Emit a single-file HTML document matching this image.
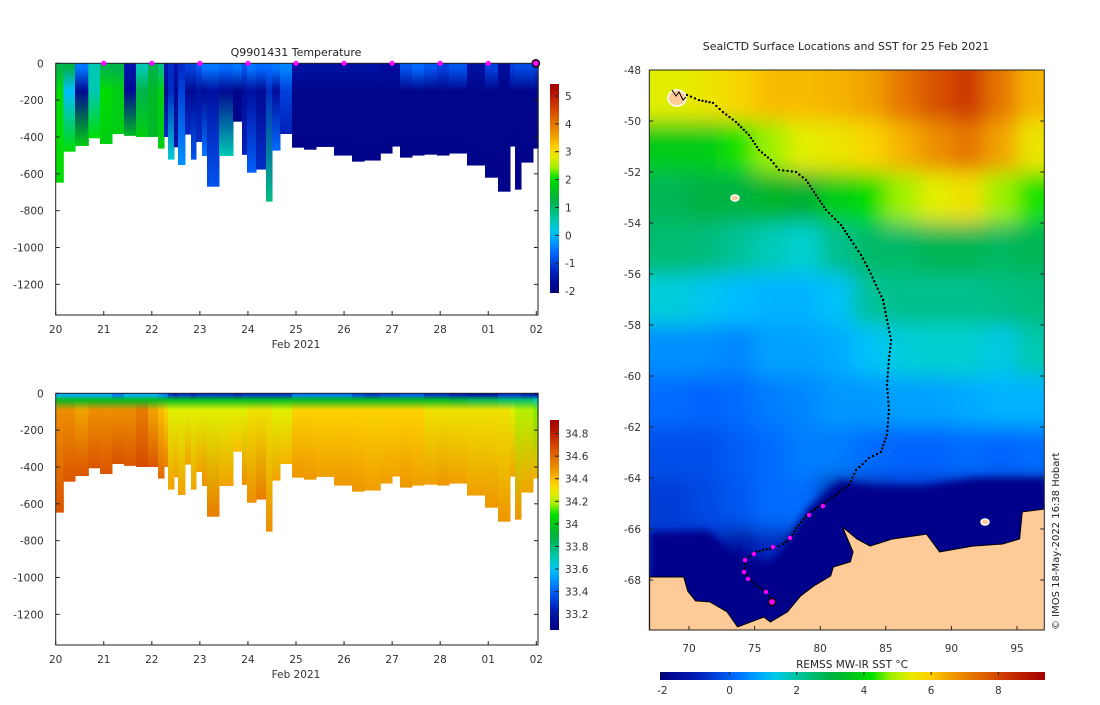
<!DOCTYPE html>
<html><head><meta charset="utf-8"><style>
html,body{margin:0;padding:0;background:#fff;}
svg text{font-family:"DejaVu Sans","Liberation Sans",sans-serif;}
</style></head><body>
<svg id="root" width="1100" height="700" viewBox="0 0 1100 700" xmlns="http://www.w3.org/2000/svg">
<defs id="defs"></defs>
<g id="g-temp"></g>
<g id="g-sal"></g>
<g id="g-map"></g>
</svg>
<script>
// ---------- data ----------
const profileStart=[0,0.159,0.402,0.679,0.922,1.171,1.421,1.671,1.920,2.129,2.254,2.337,2.461,2.545,2.690,2.815,2.919,3.044,3.148,3.398,3.689,3.876,3.980,4.168,4.376,4.501,4.667,4.917,5.166,5.416,5.791,6.165,6.415,6.754,6.998,7.164,7.414,7.663,7.934,8.183,8.558,8.933,9.203,9.453,9.557,9.682,9.931];
const profileEnd=10.04;
const profileDepth=[648,480,449,407,438,384,394,400,400,463,400,523,456,552,387,523,427,503,670,503,317,497,594,577,751,474,384,458,469,454,501,534,528,490,452,512,501,496,501,490,555,621,697,452,686,539,463];
const tempSurf=[1.2,1.2,-0.5,0.5,1.2,1.2,-1.5,0.5,1.2,0.8,-1.5,-1.2,-1.5,-1.2,-1.0,-1.0,-0.8,-0.5,-0.5,-0.6,-0.5,-0.8,-0.5,-0.6,-0.6,-0.5,-0.4,-1.6,-1.6,-1.6,-1.6,-1.6,-1.6,-1.7,-1.7,-0.8,-0.6,-0.8,-1.0,-0.8,-1.6,-1.0,-1.7,-1.0,-0.9,-0.9,-1.0];
const tempMid=[2,0,-1.8,0.5,2,1.8,-1.8,1.2,1.5,1.8,-1.8,-1.2,-1.8,-1.0,-1.8,-1.8,-1.6,-1.8,-1.6,-1.8,-1.9,-1.7,-1.6,-1.8,-1.2,-1.7,-1.0,-1.9,-1.9,-1.9,-1.9,-1.9,-1.9,-1.9,-1.9,-1.9,-1.9,-1.9,-1.9,-1.9,-1.9,-1.9,-1.9,-1.9,-1.9,-1.9,-1.9];
const tempDeep=[2,2,1.8,2,1.8,1.8,1.5,1.8,1.5,1.8,-1.2,0.3,-1.5,-0.3,-1.2,-0.8,-1.2,-0.5,-0.8,0.5,-1.9,-1.3,-0.7,-1.2,0.8,-0.6,-1.3,-1.95,-1.95,-1.95,-1.95,-1.95,-1.95,-1.95,-1.95,-1.95,-1.95,-1.95,-1.95,-1.95,-1.95,-1.95,-1.95,-1.95,-1.95,-1.95,-1.95];
const salSurf=[33.55,33.55,33.55,33.55,33.55,33.45,33.55,33.55,33.55,33.5,33.45,33.3,33.25,33.3,33.3,33.25,33.3,33.3,33.3,33.3,33.25,33.3,33.3,33.3,33.3,33.3,33.3,33.45,33.45,33.45,33.45,33.35,33.3,33.35,33.35,33.4,33.4,33.3,33.3,33.25,33.2,33.2,33.3,33.3,33.3,33.25,33.2];
const salTrans=[33.95,33.95,33.95,33.95,33.95,33.95,33.95,33.95,33.95,33.95,33.95,33.95,33.95,33.95,33.95,33.95,33.95,33.95,33.95,33.95,33.95,33.95,33.95,33.95,33.95,33.95,33.95,33.95,33.95,33.95,33.95,33.95,33.95,33.95,33.95,33.95,33.95,33.95,33.95,33.9,33.85,33.85,33.8,33.8,33.8,33.8,33.7];
const salMid=[34.5,34.5,34.45,34.5,34.5,34.5,34.5,34.55,34.45,34.4,34.35,34.25,34.25,34.25,34.25,34.25,34.25,34.25,34.25,34.25,34.25,34.25,34.3,34.3,34.3,34.25,34.25,34.35,34.35,34.35,34.35,34.35,34.35,34.35,34.35,34.35,34.35,34.3,34.3,34.3,34.3,34.3,34.3,34.25,34.2,34.2,34.15];
const salDeep=[34.65,34.65,34.65,34.65,34.65,34.66,34.65,34.68,34.65,34.6,34.55,34.45,34.45,34.45,34.45,34.45,34.45,34.5,34.55,34.45,34.4,34.5,34.5,34.55,34.5,34.45,34.42,34.48,34.48,34.46,34.48,34.48,34.46,34.46,34.45,34.48,34.46,34.46,34.48,34.46,34.46,34.48,34.48,34.45,34.48,34.45,34.42];
const dayLabels=['20','21','22','23','24','25','26','27','28','01','02'];
const depthTicks=[0,200,400,600,800,1000,1200];
const surfaceMarkerDays=[1,2,3,4,5,6,7,8,9];
const lastMarkerDay=10.0;
const tempTicks=[-2,-1,0,1,2,3,4,5];
const salTicks=[33.2,33.4,33.6,33.8,34,34.2,34.4,34.6,34.8];
// map data
const latTicks=[-48,-50,-52,-54,-56,-58,-60,-62,-64,-66,-68];
const lonTicks=[70,75,80,85,90,95];
const sstTicks=[-2,0,2,4,6,8];
const sstLonEdges=[67.5,70,72.5,75,77.5,80,82.5,85,87.5,90,92.5,95,97.5];
const sstLatEdges=[-48,-50,-52,-54,-56,-58,-60,-62,-64,-66,-68,-70];
const sstGrid=[
[5.3,5.5,5.8,6.2,6.2,6.3,6.5,7.2,7.8,8.2,7.2,6.3],
[3.8,3.8,4.3,4.8,5.3,5.5,5.8,6.3,6.8,7.2,6.5,5.5],
[2.8,3,3,3.3,3.2,3.8,4.2,4.8,5.3,5.6,4.8,4.3],
[2.5,2.4,2.1,1.8,1.6,2.2,2.6,2.6,2.8,2.8,2.7,2.8],
[1.5,1.3,1.1,1,1,1.2,2.1,2.2,2.2,2.2,2.3,2.4],
[0.6,0.6,0.5,0.8,0.8,0.9,1.2,1.5,1.6,1.6,1.4,1.9],
[0.2,0.1,0.2,0.4,0.5,0.7,0.7,0.8,0.8,0.9,1,1],
[-0.2,-0.2,0,0.2,0.4,0.4,0.2,0.1,0.1,0.2,0.1,0.2],
[-0.5,-0.3,-0.1,0.2,0.2,-1.5,-1.2,-0.7,-0.8,-1,-1.3,-1.6],
[-0.6,-0.7,-1.5,-0.8,-1.7,-1.9,-1.9,-1.9,-1.9,-1.9,-1.9,-1.9],
[-1.9,-1.9,-1.9,-1.9,-1.9,-1.9,-1.9,-1.9,-1.9,-1.9,-1.9,-1.9]];
const trackLon=[69.85,70.76,71.83,72.59,73.58,74.57,75.34,76.25,76.86,78.16,78.92,79.68,80.44,81.59,82.35,83.11,83.72,84.25,84.79,85.09,85.40,85.24,85.09,85.24,85.09,84.63,83.72,82.73,82.20,81.20,80.06,79.15,78.54,78.16,77.77,77.16,76.48,75.64,74.87,74.34,74.19,74.57,75.18,75.95,76.25];
const trackLat=[-48.98,-49.18,-49.29,-49.65,-50.04,-50.55,-51.14,-51.53,-51.92,-52.0,-52.31,-52.90,-53.49,-54.08,-54.67,-55.25,-55.84,-56.43,-57.02,-57.80,-58.59,-59.37,-60.35,-61.33,-62.31,-62.98,-63.22,-63.69,-64.27,-64.67,-65.06,-65.37,-65.73,-65.96,-66.35,-66.59,-66.75,-66.82,-66.94,-67.22,-67.69,-67.92,-68.24,-68.47,-68.82];
const pinkLon=[80.21,79.15,77.70,76.40,74.95,74.27,74.19,74.50,75.87];
const pinkLat=[-65.10,-65.45,-66.35,-66.71,-66.98,-67.22,-67.69,-67.96,-68.47];
const lastLon=76.33, lastLat=-68.86;
const coastLon=[67.0,69.6,69.9,70.5,71.6,72.9,73.7,74.7,75.7,76.2,77.5,78.5,79.5,80.8,81.0,82.3,82.5,81.7,82.8,83.8,85.5,88.1,89.1,91.6,93.9,95.2,95.4,97.2,97.2,67.0];
const coastLat=[-67.88,-67.88,-68.43,-68.82,-68.86,-69.25,-69.84,-69.65,-69.45,-69.65,-69.25,-68.63,-68.24,-67.84,-67.49,-67.29,-66.90,-65.92,-66.39,-66.67,-66.39,-66.20,-66.90,-66.67,-66.59,-66.39,-65.33,-65.21,-69.96,-69.96];
const bayLon=[67.0,71.4,73.4,76.0,77.0,79.0,81.5,84.0,87.9,91.7,97.2,97.2,67.0];
const bayLat=[-66.12,-66.04,-66.90,-67.29,-66.90,-65.22,-64.1,-64.3,-64.3,-64.0,-64.0,-69.9,-69.9];

// ---------- helpers ----------
const NS='http://www.w3.org/2000/svg';
function mk(tag,attrs,parent,txt){const e=document.createElementNS(NS,tag);for(const k in attrs)e.setAttribute(k,attrs[k]);if(txt!==undefined)e.textContent=txt;parent.appendChild(e);return e;}
const cstops=[[0,[0,0,128]],[0.09,[0,24,176]],[0.19,[0,100,255]],[0.24,[0,150,255]],[0.28,[0,192,255]],[0.32,[0,208,208]],[0.37,[0,192,144]],[0.46,[0,176,48]],[0.55,[0,224,0]],[0.59,[144,240,0]],[0.64,[224,240,0]],[0.70,[255,208,0]],[0.75,[240,160,0]],[0.84,[224,96,0]],[0.93,[192,32,0]],[1,[160,0,0]]];
function cmap(f){f=Math.max(0,Math.min(1,f));for(let i=1;i<cstops.length;i++){if(f<=cstops[i][0]){const a=cstops[i-1],b=cstops[i];const t=(f-a[0])/(b[0]-a[0]);const c=a[1].map((v,j)=>Math.round(v+(b[1][j]-v)*t));return 'rgb('+c.join(',')+')';}}return 'rgb(160,0,0)';}
const defs=document.getElementById('defs');
let gid=0;

// ---------- section chart ----------
function section(g,top,bottom,layers,stopDepths,vmin,vmax,cbTop,cbBot,cbTicks,cbFmt,title,markers,labelY){
  const L=55.7,R=538,y0=top;
  const xS=d=>L+d*48.06;
  const yS=m=>y0+m*0.1842;
  if(title){const t=mk('text',{x:296,y:56,'text-anchor':'middle','font-size':11,fill:'#222'},g,title);}
  const cols=mk('g',{},g);
  for(let i=0;i<profileStart.length;i++){
    const x1=xS(profileStart[i]),x2=xS(i+1<profileStart.length?profileStart[i+1]:profileEnd);
    const d=profileDepth[i];const id='cg'+(gid++);
    const lg=mk('linearGradient',{id:id,gradientUnits:'userSpaceOnUse',x1:0,y1:yS(0),x2:0,y2:yS(d)},defs);
    const f=v=>(v-vmin)/(vmax-vmin);
    stopDepths.forEach((sd,k)=>{const off=sd<0?1:Math.min(0.97,sd/d);mk('stop',{offset:off,'stop-color':cmap(f(layers[k][i]))},lg);});
    const r=mk('rect',{x:x1.toFixed(2),y:yS(0),width:(x2-x1+0.5).toFixed(2),height:(yS(d)-yS(0)).toFixed(2),fill:'url(#'+id+')'},cols);
    
    
  }
  const fr=mk('rect',{x:L,y:y0,width:R-L,height:bottom-y0,fill:'none',stroke:'#222','stroke-width':1},g);
  
  const ya=mk('g',{},g);
  depthTicks.forEach(t=>{const y=yS(t);mk('line',{x1:L,x2:L+4,y1:y,y2:y,stroke:'#222'},ya);mk('line',{x1:R-4,x2:R,y1:y,y2:y,stroke:'#222'},ya);
    const tx=mk('text',{x:L-12,y:y+4,'text-anchor':'end','font-size':10.5,fill:'#333'},ya,t===0?'0':'-'+t);});
  const xa=mk('g',{},g);
  dayLabels.forEach((lab,i)=>{const x=xS(i);mk('line',{x1:x,x2:x,y1:bottom,y2:bottom-4,stroke:'#222'},xa);
    const tx=mk('text',{x:x,y:labelY,'text-anchor':'middle','font-size':10.5,fill:'#333'},xa,lab);});
  const xt=mk('text',{x:296,y:labelY+15,'text-anchor':'middle','font-size':10.5,fill:'#333'},g,'Feb 2021');
  if(markers){const mg=mk('g',{},g);
    surfaceMarkerDays.forEach(d=>{const c=mk('circle',{cx:xS(d),cy:y0,r:2.6,fill:'#ff00ff'},mg);});
    const c=mk('circle',{cx:xS(lastMarkerDay)-0.5,cy:y0,r:3.6,fill:'#ff00ff',stroke:'#000','stroke-width':1.5},mg);}
  const cb=mk('g',{},g);
  const id='cb'+(gid++);const lg=mk('linearGradient',{id:id,x1:0,y1:1,x2:0,y2:0},defs);
  for(let k=0;k<=20;k++)mk('stop',{offset:k/20,'stop-color':cmap(k/20)},lg);
  mk('rect',{x:550,y:cbTop,width:9,height:cbBot-cbTop,fill:'url(#'+id+')'},cb);
  const cy=v=>cbBot-(v-vmin)/(vmax-vmin)*(cbBot-cbTop);
  cbTicks.forEach(v=>{const y=cy(v);mk('line',{x1:555,x2:559,y1:y,y2:y,stroke:'#222'},cb);
    const tx=mk('text',{x:565,y:y+4,'font-size':10.5,fill:'#333'},cb,cbFmt(v));});
}
section(document.getElementById('g-temp'),63.3,315,[tempSurf,tempSurf,tempMid,tempDeep],[0,25,150,-1],-2.07,5.43,84,293,tempTicks,v=>String(v),'Q9901431  Temperature',true,333);
section(document.getElementById('g-sal'),393.3,645,[salSurf,salSurf,salTrans,salMid,salDeep],[0,8,35,90,-1],33.06,34.92,420,630,salTicks,v=>(Math.round(v*10)/10).toString(),null,false,663);

// ---------- map ----------
const gm=document.getElementById('g-map');
const ML=649.3,MR=1044.3,MT=70,MB=630;
const lx=lon=>689+(lon-70)*13.12;
const ly=lat=>70+(-48-lat)*25.5;
const SMIN=-2.07,SMAX=9.39;
const sf=v=>(v-SMIN)/(SMAX-SMIN);
const cp0=mk('clipPath',{id:'mapclip'},defs);
mk('rect',{x:ML,y:MT,width:MR-ML,height:MB-MT},cp0);
const flt=mk('filter',{id:'blur',x:'-10%',y:'-10%',width:'120%',height:'120%'},defs);
mk('feGaussianBlur',{stdDeviation:10},flt);
const fl2=mk('filter',{id:'blur2'},defs);mk('feGaussianBlur',{stdDeviation:4},fl2);
const mc=mk('g',{'clip-path':'url(#mapclip)'},gm);
const sstG=mk('g',{filter:'url(#blur)'},mc);
for(let r=0;r<sstGrid.length;r++)for(let c=0;c<sstGrid[r].length;c++){
  let x1=lx(sstLonEdges[c]),x2=lx(sstLonEdges[c+1]),y1=ly(sstLatEdges[r]),y2=ly(sstLatEdges[r+1]);
  if(c===0)x1-=30; if(c===sstGrid[r].length-1)x2+=30; if(r===0)y1-=30; if(r===sstGrid.length-1)y2+=30;
  const e=mk('rect',{x:x1,y:y1,width:x2-x1+0.5,height:y2-y1+0.5,fill:cmap(sf(sstGrid[r][c]))},sstG);
  
  
}
const bay=mk('polygon',{points:bayLon.map((v,i)=>lx(v)+','+ly(bayLat[i])).join(' '),fill:cmap(sf(-1.85)),filter:'url(#blur2)'},mc);

const land=mk('polygon',{points:coastLon.map((v,i)=>lx(v)+','+ly(coastLat[i])).join(' '),fill:'#fdca98',stroke:'#000','stroke-width':1},mc);

[[677,98,9,8],[735,198,4,3],[985,522,4,3]].forEach(p=>{const e=mk('ellipse',{cx:p[0],cy:p[1],rx:p[2],ry:p[3],fill:'#fdca98',stroke:'#fff','stroke-width':1.5},mc);});
mk('path',{d:'M672 90 l4 6 l3 -4 l4 8 l3 -3',stroke:'#000','stroke-width':1,fill:'none'},mc);
const tg=mk('g',{},mc);
for(let i=0;i<trackLon.length-1;i++){const x1=lx(trackLon[i]),y1=ly(trackLat[i]),x2=lx(trackLon[i+1]),y2=ly(trackLat[i+1]);
  const n=Math.max(1,Math.round(Math.hypot(x2-x1,y2-y1)/4));
  for(let k=0;k<n;k++){const c=mk('circle',{cx:x1+(x2-x1)*k/n,cy:y1+(y2-y1)*k/n,r:1.2,fill:'#000'},tg);}}
pinkLon.forEach((v,i)=>{const c=mk('circle',{cx:lx(v),cy:ly(pinkLat[i]),r:2.2,fill:'#ff00ff'},tg);});
const lc=mk('circle',{cx:lx(lastLon),cy:ly(lastLat),r:3.6,fill:'#ff00ff',stroke:'#000','stroke-width':1.5},tg);
const mf=mk('rect',{x:ML,y:MT,width:MR-ML,height:MB-MT,fill:'none',stroke:'#222'},gm);
const mt=mk('text',{x:846,y:50,'text-anchor':'middle','font-size':11,fill:'#222'},gm,'SealCTD Surface Locations and SST for 25 Feb 2021');
latTicks.forEach(t=>{const y=ly(t);mk('line',{x1:ML,x2:ML+4,y1:y,y2:y,stroke:'#222'},gm);mk('line',{x1:MR-4,x2:MR,y1:y,y2:y,stroke:'#222'},gm);
  const tx=mk('text',{x:641,y:y+4,'text-anchor':'end','font-size':10.5,fill:'#333'},gm,String(t));});
lonTicks.forEach(t=>{const x=lx(t);mk('line',{x1:x,x2:x,y1:MB,y2:MB-4,stroke:'#222'},gm);
  const tx=mk('text',{x:x,y:652,'text-anchor':'middle','font-size':10.5,fill:'#333'},gm,String(t));});
const hb=mk('g',{},gm);
const hl=mk('linearGradient',{id:'hcb',x1:0,y1:0,x2:1,y2:0},defs);
for(let k=0;k<=20;k++)mk('stop',{offset:k/20,'stop-color':cmap(k/20)},hl);
mk('rect',{x:660,y:672,width:385,height:8,fill:'url(#hcb)'},hb);
const hx=v=>660+(v-SMIN)/(SMAX-SMIN)*385;
sstTicks.forEach(v=>{mk('line',{x1:hx(v),x2:hx(v),y1:672,y2:675,stroke:'#222'},hb);
  const tx=mk('text',{x:hx(v),y:694,'text-anchor':'middle','font-size':10.5,fill:'#333'},hb,String(v));});
const ht=mk('text',{x:852,y:668,'text-anchor':'middle','font-size':10.5,fill:'#222'},hb,'REMSS MW-IR SST °C');
const cp=mk('text',{x:0,y:0,'font-size':10,fill:'#222',transform:'translate(1059,630) rotate(-90)'},gm,'© IMOS 18-May-2022 16:38 Hobart');
</script>
</body></html>
